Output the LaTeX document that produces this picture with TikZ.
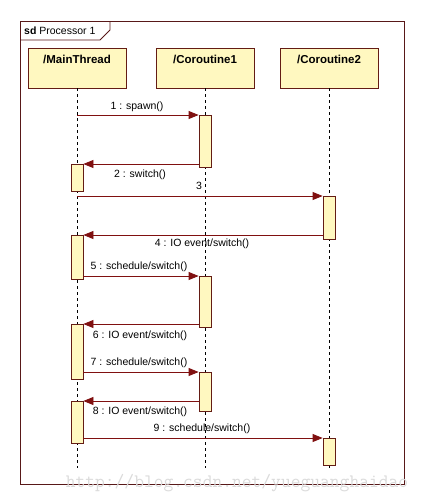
\documentclass[tikz,border=0pt]{standalone}
\usepackage{fontspec}
\setmainfont{Liberation Sans}
\usetikzlibrary{arrows.meta}

\definecolor{msgred}{RGB}{128,16,16}
\definecolor{boxline}{RGB}{100,28,20}
\definecolor{frameline}{RGB}{88,24,24}
\definecolor{boxfill}{RGB}{255,248,192}

\begin{document}
\begin{tikzpicture}[x=1pt, y=-1pt, >={Triangle[length=10pt,width=8pt]},
  head/.style={draw=boxline, fill=boxfill, line width=0.8pt, minimum width=98pt, inner ysep=5pt,
    text height=10pt, text depth=20pt, font=\fontsize{11.5}{12}\selectfont\bfseries},
  act/.style={draw=boxline, fill=boxfill, line width=0.8pt, minimum width=12pt, inner sep=0pt},
  lifeline/.style={dashed, black, line width=0.7pt},
  msg/.style={->, draw=msgred, fill=msgred, line width=0.8pt},
  lbl/.style={inner sep=0pt, font=\fontsize{10.5}{12}\selectfont}]
  \useasboundingbox (0,0) rectangle (424,504);
  \fill[white] (0,0) rectangle (424,504);

  % frame
  \draw[frameline, line width=0.8pt] (20,21) rectangle (404,484);
  \draw[frameline, line width=0.8pt] (20,40) -- (100,40) -- (110,30) -- (110,21);
  \node[anchor=west, inner sep=0pt, font=\fontsize{10.5}{12}\selectfont] (sd) at (24,31)
    {\textbf{sd} Processor 1};

  % heads and lifelines
  \node[head] (main) at (77,68) {/MainThread};
  \node[head] (cor1) at (205,68) {/Coroutine1};
  \node[head] (cor2) at (329,68) {/Coroutine2};
  \coordinate (bottom) at (0,468);
  \draw[lifeline] (main.south) -- (main.south |- bottom);
  \draw[lifeline] (cor1.south) -- (cor1.south |- bottom);
  \draw[lifeline] (cor2.south) -- (cor2.south |- bottom);

  % activations
  \node[act, minimum height=52pt, anchor=north] (c1a) at (205,115) {};
  \node[act, minimum height=27pt, anchor=north] (m1a) at (77,164) {};
  \node[act, minimum height=43pt, anchor=north] (c2a) at (329,196) {};
  \node[act, minimum height=44pt, anchor=north] (m2a) at (77,235) {};
  \node[act, minimum height=51pt, anchor=north] (c1b) at (205,276) {};
  \node[act, minimum height=55pt, anchor=north] (m3a) at (77,324) {};
  \node[act, minimum height=39pt, anchor=north] (c1c) at (205,372) {};
  \node[act, minimum height=42pt, anchor=north] (m4a) at (77,401) {};
  \node[act, minimum height=27pt, anchor=north] (c2b) at (329,438) {};

  % messages
  \draw[msg] (main.south |- c1a.north) -- (c1a.north west);
  \draw[msg] (c1a.west |- m1a.north) -- (m1a.north east);
  \draw[msg] (main.south |- c2a.north) -- (c2a.north west);
  \draw[msg] (c2a.west |- m2a.north) -- (m2a.north east);
  \draw[msg] (m2a.east |- c1b.north) -- (c1b.north west);
  \draw[msg] (c1b.west |- m3a.north) -- (m3a.north east);
  \draw[msg] (m3a.east |- c1c.north) -- (c1c.north west);
  \draw[msg] (c1c.west |- m4a.north) -- (m4a.north east);
  \draw[msg] (m4a.east |- c2b.north) -- (c2b.north west);

  % labels
  \node[lbl] (l1) at (137,107) {1 : spawn()};
  \node[lbl] (l2) at (140,175) {2 : switch()};
  \node[lbl] (l3) at (199,186) {3};
  \node[lbl] (l4) at (202,244) {4 : IO event/switch()};
  \node[lbl] (l5) at (139,267) {5 : schedule/switch()};
  \node[lbl] (l6) at (140,336) {6 : IO event/switch()};
  \node[lbl] (l7) at (139,363) {7 : schedule/switch()};
  \node[lbl] (l8) at (140,412) {8 : IO event/switch()};
  \node[lbl] (l9) at (202,429) {9 : schedule/switch()};

  % watermark
  \node[inner sep=0pt, text=gray!28, font=\ttfamily\fontsize{19}{19}\selectfont] (wm)
    at (237,483) {http://blog.csdn.net/yueguanghaidao};
\end{tikzpicture}
\end{document}
